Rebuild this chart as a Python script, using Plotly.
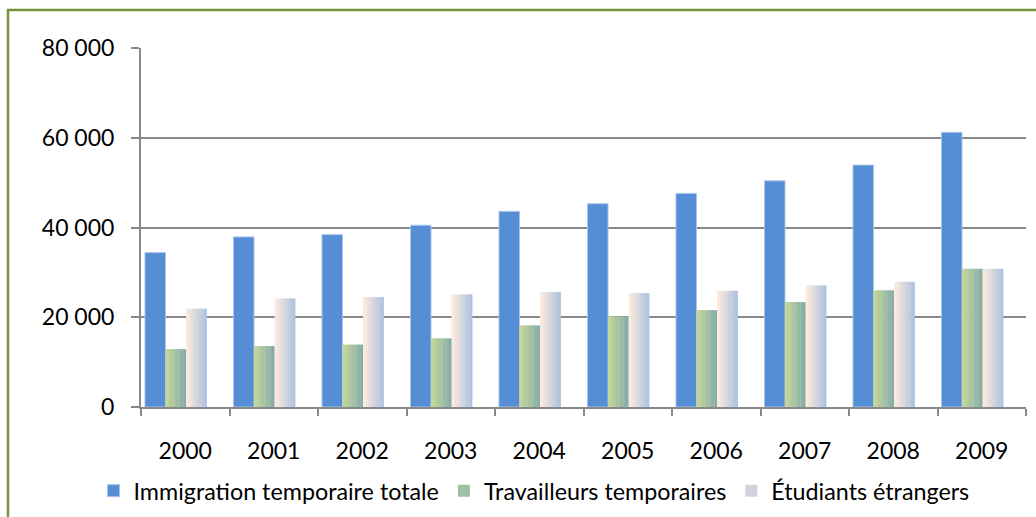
import plotly.graph_objects as go

years = ["2000", "2001", "2002", "2003", "2004", "2005", "2006", "2007", "2008", "2009"]
total = [34400, 37900, 38400, 40500, 43600, 45300, 47600, 50400, 53900, 61200]
travailleurs = [12900, 13600, 13900, 15300, 18200, 20200, 21600, 23400, 26000, 30800]
etudiants = [21900, 24200, 24500, 25100, 25600, 25400, 25900, 27100, 27900, 30800]
names = ["Immigration temporaire totale", "Travailleurs temporaires", "Étudiants étrangers"]

FONT = "Lato"
GRAY = "#898989"
BAR_W = 0.232
N_SLICES = 8


def lerp(c1, c2, t):
    return "rgb(%d,%d,%d)" % tuple(round(a + (b - a) * t) for a, b in zip(c1, c2))


fig = go.Figure()

# solid blue series
fig.add_trace(go.Bar(
    x=years, y=total, name=names[0], offset=-0.455, width=BAR_W,
    marker=dict(color="#558ED5", line=dict(color="#A9C4EB", width=1)),
    legendrank=1,
))


def gradient_series(values, name, c_left, c_right, start, rank):
    sw = BAR_W / N_SLICES
    for i in range(N_SLICES):
        t = i / (N_SLICES - 1)
        fig.add_trace(go.Bar(
            x=years, y=values, name=name,
            offset=start + i * sw, width=sw + 0.004,
            marker=dict(color=lerp(c_left, c_right, t), line=dict(width=0)),
            legendgroup=name, showlegend=(i == N_SLICES // 2), legendrank=rank,
        ))


gradient_series(travailleurs, names[1], (196, 214, 152), (134, 173, 170), -0.223, 2)
gradient_series(etudiants, names[2], (252, 234, 220), (176, 195, 224), 0.009, 3)

fig.update_layout(
    width=1036, height=517, autosize=False,
    margin=dict(l=141, r=10, t=48, b=110, autoexpand=False),
    paper_bgcolor="white", plot_bgcolor="white",
    barmode="overlay",
    separators=", ",
    font=dict(family=FONT, size=23, color="black"),
    showlegend=True,
    legend=dict(
        orientation="h", xref="container", yref="container",
        x=534 / 1036, xanchor="center", y=1 - 491 / 517, yanchor="middle",
        font=dict(family=FONT, size=23.3, color="black"),
        itemwidth=30, traceorder="normal",
    ),
    shapes=[dict(
        type="rect", xref="paper", yref="paper",
        x0=-0.1503, x1=1.05, y0=-0.5, y1=1.106,
        line=dict(color="#77933C", width=2.5), fillcolor="rgba(0,0,0,0)", layer="below",
    )],
)

fig.update_xaxes(
    type="category", showgrid=False, showline=True, linecolor=GRAY, linewidth=2,
    ticks="outside", tickson="boundaries", ticklen=7, tickcolor=GRAY, tickwidth=2,
    ticklabelstandoff=22, tickfont=dict(family=FONT, size=23, color="black"),
)
fig.update_yaxes(
    range=[0, 80000], dtick=20000, tickformat=",d",
    showgrid=True, gridcolor=GRAY, gridwidth=2,
    showline=True, linecolor=GRAY, linewidth=2, zeroline=False,
    ticks="outside", ticklen=8, tickcolor=GRAY, tickwidth=2,
    ticklabelstandoff=12, tickfont=dict(family=FONT, size=23, color="black"),
)

fig.write_html("out.html", config={"displayModeBar": False})

# remove the default page margin so the figure sits at the window origin
with open("out.html", encoding="utf-8") as f:
    html = f.read()
html = html.replace("<head>", "<head><style>html,body{margin:0;padding:0;overflow:hidden;}</style>", 1)
with open("out.html", "w", encoding="utf-8") as f:
    f.write(html)
